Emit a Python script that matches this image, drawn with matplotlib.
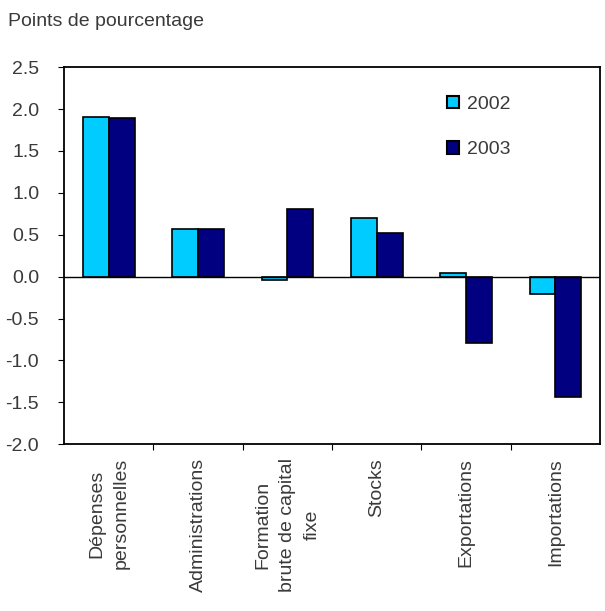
import numpy as np
import matplotlib.pyplot as plt

plt.rcParams["font.family"] = ["Liberation Sans", "DejaVu Sans"]

categories = [
    "Dépenses\npersonnelles",
    "Administrations",
    "Formation\nbrute de capital\nfixe",
    "Stocks",
    "Exportations",
    "Importations",
]
values_2002 = [1.90, 0.57, -0.04, 0.70, 0.04, -0.21]
values_2003 = [1.89, 0.57, 0.81, 0.52, -0.79, -1.44]
yticks = [-2.0, -1.5, -1.0, -0.5, 0.0, 0.5, 1.0, 1.5, 2.0, 2.5]

LIGHT = "#00ccff"
DARK = "#000080"
TEXT = "#3a3a3a"
FS = 14

fig = plt.figure(figsize=(6.05, 6.11), dpi=100)
ax = fig.add_axes([0.106, 0.273, 0.886, 0.617])

x = np.arange(len(categories))
w = 0.29
ax.bar(x - w / 2, values_2002, w, color=LIGHT, edgecolor="black", linewidth=1.2, label="2002")
ax.bar(x + w / 2, values_2003, w, color=DARK, edgecolor="black", linewidth=1.2, label="2003")
ax.axhline(0, color="black", linewidth=1.0, zorder=1)

ax.set_xlim(-0.5, len(categories) - 0.5)
ax.set_ylim(-2.0, 2.5)
ax.set_yticks(yticks)
ax.set_yticklabels([f"{v:.1f}" for v in yticks])

# tick marks between groups, labels at group centres
ax.set_xticks(np.arange(0.5, len(categories) - 0.5), labels=[])
ax.set_xticks(x, labels=categories, minor=True, rotation=90, va="top", ha="center",
              multialignment="center", linespacing=1.6)
ax.tick_params(axis="both", which="both", labelsize=FS, colors="black", labelcolor=TEXT)
ax.tick_params(axis="x", which="minor", length=0, pad=10)
ax.tick_params(axis="x", which="major", length=4, direction="out")
ax.tick_params(axis="y", length=4, direction="out", pad=14)

for s in ax.spines.values():
    s.set_linewidth(1.3)

leg = ax.legend(loc="upper left", bbox_to_anchor=(0.70, 0.945), frameon=False,
                fontsize=FS, labelcolor=TEXT, handlelength=0.62, handleheight=0.62,
                handletextpad=0.4, labelspacing=1.45, borderaxespad=0)
for h in leg.legend_handles:
    h.set_linewidth(1.5)

fig.text(0.013, 0.965, "Points de pourcentage", fontsize=FS, color=TEXT, ha="left", va="center")

fig.savefig("out.png", dpi=100)
